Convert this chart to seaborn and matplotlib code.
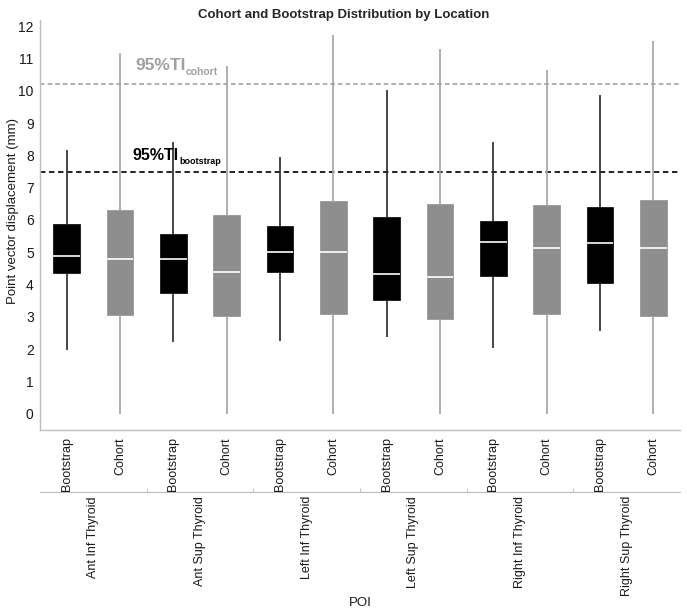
import pandas as pd
import matplotlib.pyplot as plt
import seaborn as sns

# points of interest and the two distributions shown for each
poi = ["Ant Inf Thyroid", "Ant Sup Thyroid", "Left Inf Thyroid",
       "Left Sup Thyroid", "Right Inf Thyroid", "Right Sup Thyroid"]
sources = ["Bootstrap", "Cohort"]

# five number summaries (mm)
boot_min = [1.98, 2.21, 2.27, 2.39, 2.05, 2.57]
boot_q1 = [4.35, 3.74, 4.40, 3.53, 4.26, 4.06]
boot_med = [4.88, 4.80, 5.02, 4.33, 5.32, 5.28]
boot_q3 = [5.88, 5.58, 5.80, 6.10, 5.96, 6.40]
boot_max = [8.17, 8.40, 7.95, 10.02, 8.40, 9.86]

coh_min = [0.0, 0.0, 0.0, 0.0, 0.0, 0.0]
coh_q1 = [3.06, 3.03, 3.10, 2.95, 3.10, 3.02]
coh_med = [4.80, 4.40, 5.00, 4.25, 5.12, 5.14]
coh_q3 = [6.30, 6.15, 6.60, 6.48, 6.46, 6.62]
coh_max = [11.17, 10.78, 11.74, 11.28, 10.64, 11.55]

# 95% tolerance intervals
ti_cohort = 10.2
ti_bootstrap = 7.5

boot = list(zip(boot_min, boot_q1, boot_med, boot_q3, boot_max))
coh = list(zip(coh_min, coh_q1, coh_med, coh_q3, coh_max))

rows = []
for i, p in enumerate(poi):
    for s, summ in zip(sources, (boot, coh)):
        for v in summ[i]:
            rows.append({"poi": p, "source": s, "key": p + "|" + s, "value": v})
df = pd.DataFrame(rows)
keys = [p + "|" + s for p in poi for s in sources]

sns.set_style("white")
plt.rcParams['font.family'] = ['Liberation Sans', 'DejaVu Sans']

fig = plt.figure(figsize=(6.87, 6.15), dpi=100)
ax = fig.add_axes([40 / 687, 185 / 615, 640 / 687, 410 / 615])

styles = {
    "Bootstrap": dict(fill="#000000", line="#303030"),
    "Cohort": dict(fill="#8e8e8e", line="#a5a5a5"),
}
for s in sources:
    sns.boxplot(
        data=df[df["source"] == s], x="key", y="value", order=keys,
        color=styles[s]["fill"], linecolor=styles[s]["line"], saturation=1,
        width=0.5, whis=(0, 100), showcaps=False, showfliers=False, linewidth=1.25,
        boxprops=dict(edgecolor=styles[s]["fill"], linewidth=0.5),
        medianprops=dict(color="white", linewidth=1.2),
        ax=ax,
    )

ax.axhline(ti_cohort, color="#9a9a9a", linestyle=(0, (3, 2)), linewidth=1.1, zorder=0.5)
ax.axhline(ti_bootstrap, color="#111111", linestyle=(0, (3, 2)), linewidth=1.3, zorder=0.5)

t1 = ax.text(1.28, 10.64, "95%TI", color="#a0a0a0", fontsize=12.5, fontweight="bold", va="baseline")
ax.annotate("cohort", xy=(1, 0), xycoords=t1, xytext=(0.5, -1.2), textcoords="offset points",
            color="#a0a0a0", fontsize=7.5, fontweight="bold", va="baseline")
t2 = ax.text(1.24, 7.87, "95%TI", color="#000000", fontsize=11.5, fontweight="bold", va="baseline")
ax.annotate("bootstrap", xy=(1, 0), xycoords=t2, xytext=(0.5, -1.0), textcoords="offset points",
            color="#000000", fontsize=6.5, fontweight="bold", va="baseline")

ax.set_xlim(-0.5, 11.5)
ax.set_ylim(-0.46, 12.19)
ax.set_yticks(range(0, 13))
ax.set_yticks([v + 0.5 for v in range(-1, 12)], minor=True)
ax.set_xticks(range(len(keys)))
ax.set_xticklabels([k.split("|")[1] for k in keys], rotation=90, va="top")
ax.tick_params(axis="both", which="both", direction="out", color="#a8a8a8", labelcolor="#1a1a1a")
ax.tick_params(axis="y", which="major", length=3, width=0.8, pad=1.5, labelsize=10)
ax.tick_params(axis="y", which="minor", length=2, width=0.6)
ax.tick_params(axis="x", which="major", length=3, width=0.8, pad=2, labelsize=9)
for side in ["top", "right"]:
    ax.spines[side].set_visible(False)
for side in ["left", "bottom"]:
    ax.spines[side].set_color("#bdbdbd")
    ax.spines[side].set_linewidth(1)
ax.set_xlabel("")
ax.set_ylabel("Point vector displacement (mm)", fontsize=9.5, color="#1a1a1a")
ax.yaxis.set_label_coords(-0.033, 0.534)

# second level of the nested x axis
sec = ax.secondary_xaxis(-0.151)
sec.set_xticks([1.5, 3.5, 5.5, 7.5, 9.5])
sec.set_xticklabels([])
sec.set_xticks([2 * i + 0.5 for i in range(len(poi))], minor=True)
sec.set_xticklabels(poi, minor=True, rotation=90, va="top", fontsize=9, color="#1a1a1a")
sec.tick_params(axis="x", which="major", length=3, direction="in", color="#c8c8c8")
sec.tick_params(axis="x", which="minor", length=0, pad=3)
sec.spines["bottom"].set_color("#bdbdbd")
sec.spines["top"].set_visible(False)

fig.text(360 / 687, 1 - 603 / 615, "POI", ha="center", va="center", fontsize=9.5, color="#1a1a1a")
fig.text(0.5, 1 - 15 / 615, "Cohort and Bootstrap Distribution by Location",
         ha="center", va="center", fontsize=9.5, fontweight="bold")

fig.savefig("out.png", dpi=100)
